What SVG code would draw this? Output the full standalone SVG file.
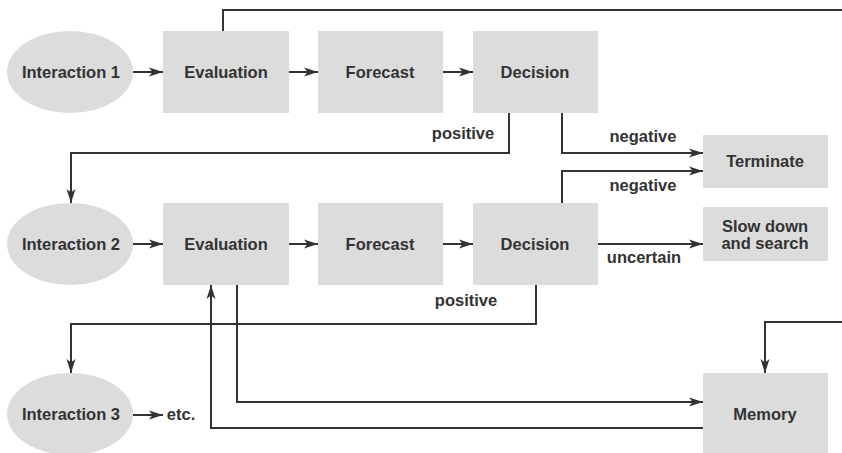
<svg xmlns="http://www.w3.org/2000/svg" width="842" height="453" viewBox="0 0 842 453">
  <style>
    .node { fill: #dcdcdc; stroke: none; }
    .label { font-family: "Liberation Sans", Arial, sans-serif; font-weight: bold; font-size: 16.5px; fill: #333333; text-anchor: middle; }
    .edge { fill: none; stroke: #333333; stroke-width: 2; }
    .arrow { marker-end: url(#head); }
  </style>
  <defs>
    <marker id="head" markerUnits="userSpaceOnUse" markerWidth="15" markerHeight="10" refX="14" refY="5" orient="auto">
      <path d="M0,0.5 L14,5 L0,9.5 L3.5,5 z" fill="#333333"/>
    </marker>
  </defs>
  <rect width="842" height="453" fill="#ffffff"/>

  <!-- connectors -->
  <g id="connectors">
    <!-- row 1 -->
    <path class="edge arrow" d="M133,72 H163"/>
    <path class="edge arrow" d="M289,72 H318"/>
    <path class="edge arrow" d="M443,72 H473"/>
    <path class="edge" d="M223,31 V10 H842"/>
    <path class="edge arrow" d="M509,113 V153 H71 V203"/>
    <path class="edge arrow" d="M562,113 V153 H703"/>
    <!-- row 2 -->
    <path class="edge arrow" d="M133,244 H163"/>
    <path class="edge arrow" d="M289,244 H318"/>
    <path class="edge arrow" d="M443,244 H473"/>
    <path class="edge arrow" d="M562,203 V171 H703"/>
    <path class="edge arrow" d="M598,244 H703"/>
    <path class="edge arrow" d="M536,285 V324 H71 V373"/>
    <path class="edge arrow" d="M237,285 V402 H703"/>
    <path class="edge arrow" d="M703,428 H211 V285"/>
    <path class="edge arrow" d="M842,322 H765 V373"/>
    <!-- row 3 -->
    <path class="edge arrow" d="M133,415 H163"/>
    <!-- edge labels -->
    <text class="label" x="463" y="139">positive</text>
    <text class="label" x="643" y="142">negative</text>
    <text class="label" x="643" y="191">negative</text>
    <text class="label" x="644" y="263">uncertain</text>
    <text class="label" x="466" y="306">positive</text>
  </g>

  <!-- row 1 -->
  <g id="interaction1">
    <ellipse class="node" cx="70" cy="72" rx="63" ry="41"/>
    <text class="label" x="71" y="78">Interaction 1</text>
  </g>
  <g id="evaluation1">
    <rect class="node" x="163" y="31" width="126" height="82"/>
    <text class="label" x="226" y="78">Evaluation</text>
  </g>
  <g id="forecast1">
    <rect class="node" x="318" y="31" width="125" height="82"/>
    <text class="label" x="380" y="78">Forecast</text>
  </g>
  <g id="decision1">
    <rect class="node" x="473" y="31" width="125" height="82"/>
    <text class="label" x="535" y="78">Decision</text>
  </g>
  <g id="terminate">
    <rect class="node" x="703" y="135" width="125" height="53"/>
    <text class="label" x="765" y="167">Terminate</text>
  </g>

  <!-- row 2 -->
  <g id="interaction2">
    <ellipse class="node" cx="70" cy="244" rx="63" ry="41"/>
    <text class="label" x="71" y="250">Interaction 2</text>
  </g>
  <g id="evaluation2">
    <rect class="node" x="163" y="203" width="126" height="82"/>
    <text class="label" x="226" y="250">Evaluation</text>
  </g>
  <g id="forecast2">
    <rect class="node" x="318" y="203" width="125" height="82"/>
    <text class="label" x="380" y="250">Forecast</text>
  </g>
  <g id="decision2">
    <rect class="node" x="473" y="203" width="125" height="82"/>
    <text class="label" x="535" y="250">Decision</text>
  </g>
  <g id="slowdown">
    <rect class="node" x="703" y="207" width="125" height="54"/>
    <text class="label" x="765" y="232">Slow down</text>
    <text class="label" x="765" y="249">and search</text>
  </g>

  <!-- row 3 -->
  <g id="interaction3">
    <ellipse class="node" cx="70" cy="414" rx="63" ry="41"/>
    <text class="label" x="71" y="420">Interaction 3</text>
  </g>
  <g id="etc">
    <text class="label" x="181" y="420">etc.</text>
  </g>
  <g id="memory">
    <rect class="node" x="703" y="373" width="125" height="80"/>
    <text class="label" x="765" y="420">Memory</text>
  </g>
</svg>
